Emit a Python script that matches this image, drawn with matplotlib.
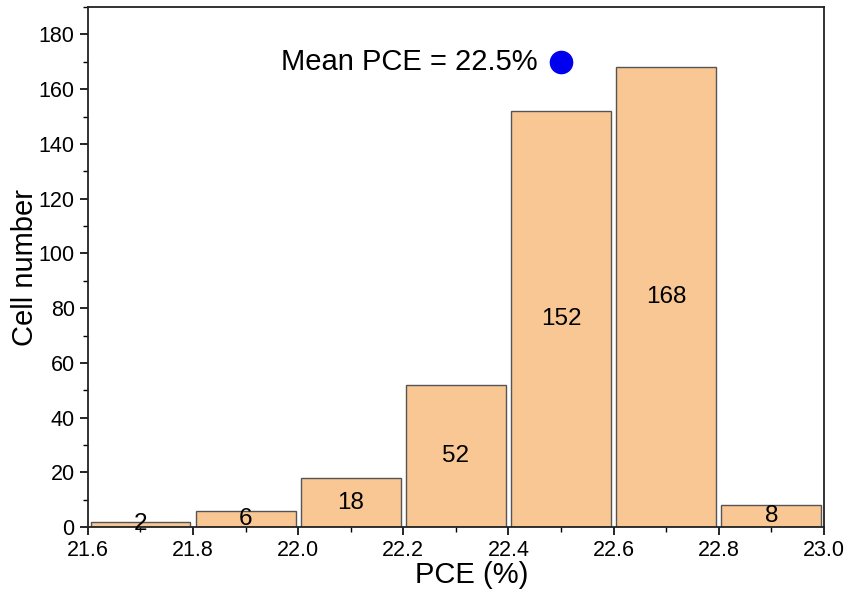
import matplotlib
matplotlib.use("Agg")
import matplotlib.pyplot as plt
from matplotlib.ticker import MultipleLocator

plt.rcParams["font.family"] = ["Liberation Sans", "DejaVu Sans"]

# histogram bins (centres) and counts
pce_bins = [21.7, 21.9, 22.1, 22.3, 22.5, 22.7, 22.9]
cell_counts = [2, 6, 18, 52, 152, 168, 8]
mean_pce = 22.5

fig = plt.figure(figsize=(8.45, 5.91), dpi=100)
ax = fig.add_axes([0.104, 0.108, 0.871, 0.880])

ax.bar(pce_bins, cell_counts, width=0.19, color="#F9C794",
       edgecolor="#555555", linewidth=1.0, zorder=2)

for x, n in zip(pce_bins, cell_counts):
    ax.text(x, n / 2, str(n), ha="center", va="center", fontsize=17.5, zorder=3)

# mean marker and label
ax.plot(mean_pce, 170, "o", color="#0000EE", markersize=16, zorder=3)
ax.text(mean_pce - 0.045, 170, "Mean PCE = 22.5%", ha="right", va="center",
        fontsize=21)

ax.set_xlim(21.6, 23.0)
ax.set_ylim(0, 190)
ax.xaxis.set_minor_locator(MultipleLocator(0.1))
ax.yaxis.set_minor_locator(MultipleLocator(10))
ax.set_xticks([21.6, 21.8, 22.0, 22.2, 22.4, 22.6, 22.8, 23.0])
ax.set_xticklabels(["21.6", "21.8", "22.0", "22.2", "22.4", "22.6", "22.8", "23.0"])
ax.set_yticks(range(0, 181, 20))

ax.tick_params(which="major", direction="out", length=6, width=1.2,
               labelsize=15.5)
ax.tick_params(which="minor", direction="out", length=3.5, width=1.0)
for s in ax.spines.values():
    s.set_linewidth(1.3)
    s.set_color("#222222")

ax.set_xlabel("PCE (%)", fontsize=21, labelpad=0, x=0.522)
ax.set_ylabel("Cell number", fontsize=21, labelpad=0)

fig.savefig("out.png", dpi=100)
